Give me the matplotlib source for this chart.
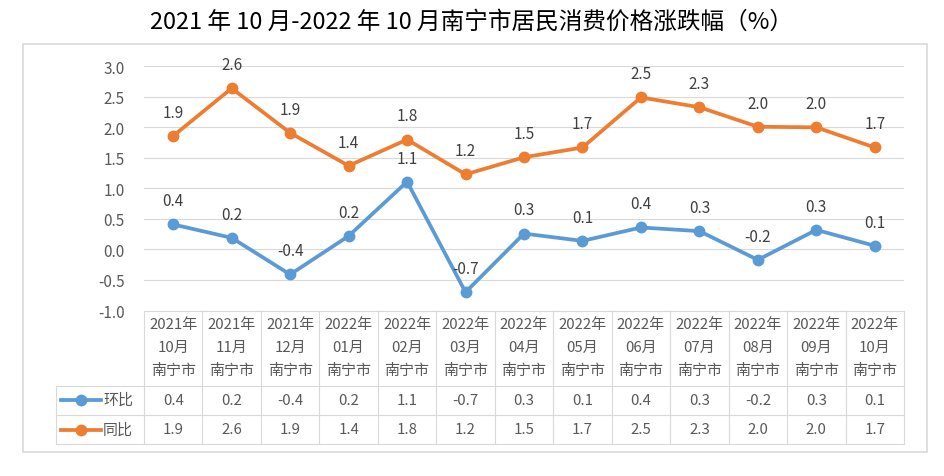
import matplotlib
matplotlib.use("Agg")
import matplotlib.pyplot as plt
from matplotlib.lines import Line2D
from matplotlib.patches import Rectangle
from matplotlib.transforms import blended_transform_factory

plt.rcParams['font.family'] = ['Noto Sans CJK SC', 'DejaVu Sans']

title = "2021 年 10 月-2022 年 10 月南宁市居民消费价格涨跌幅（%）"
years = ["2021年", "2021年", "2021年", "2022年", "2022年", "2022年", "2022年",
         "2022年", "2022年", "2022年", "2022年", "2022年", "2022年"]
months = ["10月", "11月", "12月", "01月", "02月", "03月", "04月",
          "05月", "06月", "07月", "08月", "09月", "10月"]
city = "南宁市"
series_names = ["环比", "同比"]
mom = [0.41, 0.19, -0.41, 0.22, 1.11, -0.70, 0.26, 0.14, 0.36, 0.30, -0.17, 0.32, 0.06]
yoy = [1.86, 2.64, 1.91, 1.37, 1.80, 1.23, 1.51, 1.67, 2.49, 2.33, 2.01, 2.00, 1.67]
yticks = [-1.0, -0.5, 0.0, 0.5, 1.0, 1.5, 2.0, 2.5, 3.0]
colors = ["#5B9BD5", "#ED7D31"]

W, H = 945, 477
fig = plt.figure(figsize=(W / 100, H / 100), dpi=100)

def fy(py):
    return 1 - py / H

def fx(px):
    return px / W

ax_left, ax_right, ax_top, ax_bot = 144, 904, 67.3, 311.5
ax = fig.add_axes([fx(ax_left), fy(ax_bot), fx(ax_right - ax_left), (ax_bot - ax_top) / H])
n = len(months)
xs = list(range(n))
ax.set_xlim(-0.5, n - 0.5)
ax.set_ylim(-1.0, 3.0)
for s in ax.spines.values():
    s.set_visible(False)
ax.set_yticks(yticks)
ax.set_yticklabels([f"{v:.1f}" for v in yticks], fontsize=11, color="#595959")
ax.tick_params(axis='y', length=0, pad=14)
ax.set_xticks([])
ax.grid(axis='y', color="#d9d9d9", lw=0.8)
ax.set_axisbelow(True)

for vals, c in zip([mom, yoy], colors):
    ax.plot(xs, vals, color=c, lw=2.7, marker='o', markersize=7.5, zorder=3,
            solid_capstyle='round')
    for x, v in zip(xs, vals):
        ax.annotate(f"{v:.1f}", (x, v), xytext=(0, 17), textcoords='offset points',
                    ha='center', va='center', fontsize=11, color="#404040")

# Title
fig.text(fx(472), fy(22), title, ha='center', va='center', fontsize=17,
         color="#000000", fontweight='medium')

# Outer border
fig.patches.append(Rectangle((fx(23), fy(453)), fx(927 - 23), (453 - 45) / H,
                             transform=fig.transFigure, fill=False,
                             edgecolor="#d9d9d9", lw=1.2))

# Data table
tr = blended_transform_factory(ax.transData, fig.transFigure)
gc = "#d9d9d9"
y_top, y_h, y_r1, y_r2 = 311.5, 386.5, 415.7, 445
fig.add_artist(Line2D([fx(ax_left), fx(ax_right)], [fy(y_top)] * 2, color=gc, lw=0.8,
                      transform=fig.transFigure))
for yb in [y_h, y_r1, y_r2]:
    fig.add_artist(Line2D([fx(56), fx(ax_right)], [fy(yb)] * 2, color=gc, lw=0.8,
                          transform=fig.transFigure))
for i in range(n + 1):
    fig.add_artist(Line2D([i - 0.5, i - 0.5], [fy(y_top), fy(y_r2)], color=gc, lw=0.8,
                          transform=tr))
fig.add_artist(Line2D([fx(56), fx(56)], [fy(y_h), fy(y_r2)], color=gc, lw=0.8,
                      transform=fig.transFigure))

tc = "#595959"
fs = 10.8
for i in xs:
    fig.text(i, fy(325), years[i], transform=tr, ha='center', va='center', fontsize=fs, color=tc)
    fig.text(i, fy(348), months[i], transform=tr, ha='center', va='center', fontsize=fs, color=tc)
    fig.text(i, fy(371), city, transform=tr, ha='center', va='center', fontsize=fs, color=tc)
    fig.text(i, fy(401), f"{mom[i]:.1f}", transform=tr, ha='center', va='center', fontsize=fs, color=tc)
    fig.text(i, fy(430.5), f"{yoy[i]:.1f}", transform=tr, ha='center', va='center', fontsize=fs, color=tc)

for name, c, yc in zip(series_names, colors, [401, 430.5]):
    fig.add_artist(Line2D([fx(61), fx(101)], [fy(yc)] * 2, color=c, lw=2.7,
                          transform=fig.transFigure))
    fig.add_artist(Line2D([fx(81)], [fy(yc)], color=c, marker='o', markersize=7.5,
                          transform=fig.transFigure))
    fig.text(fx(103), fy(yc), name, ha='left', va='center', fontsize=fs, color=tc)

fig.savefig("out.png", dpi=100)
